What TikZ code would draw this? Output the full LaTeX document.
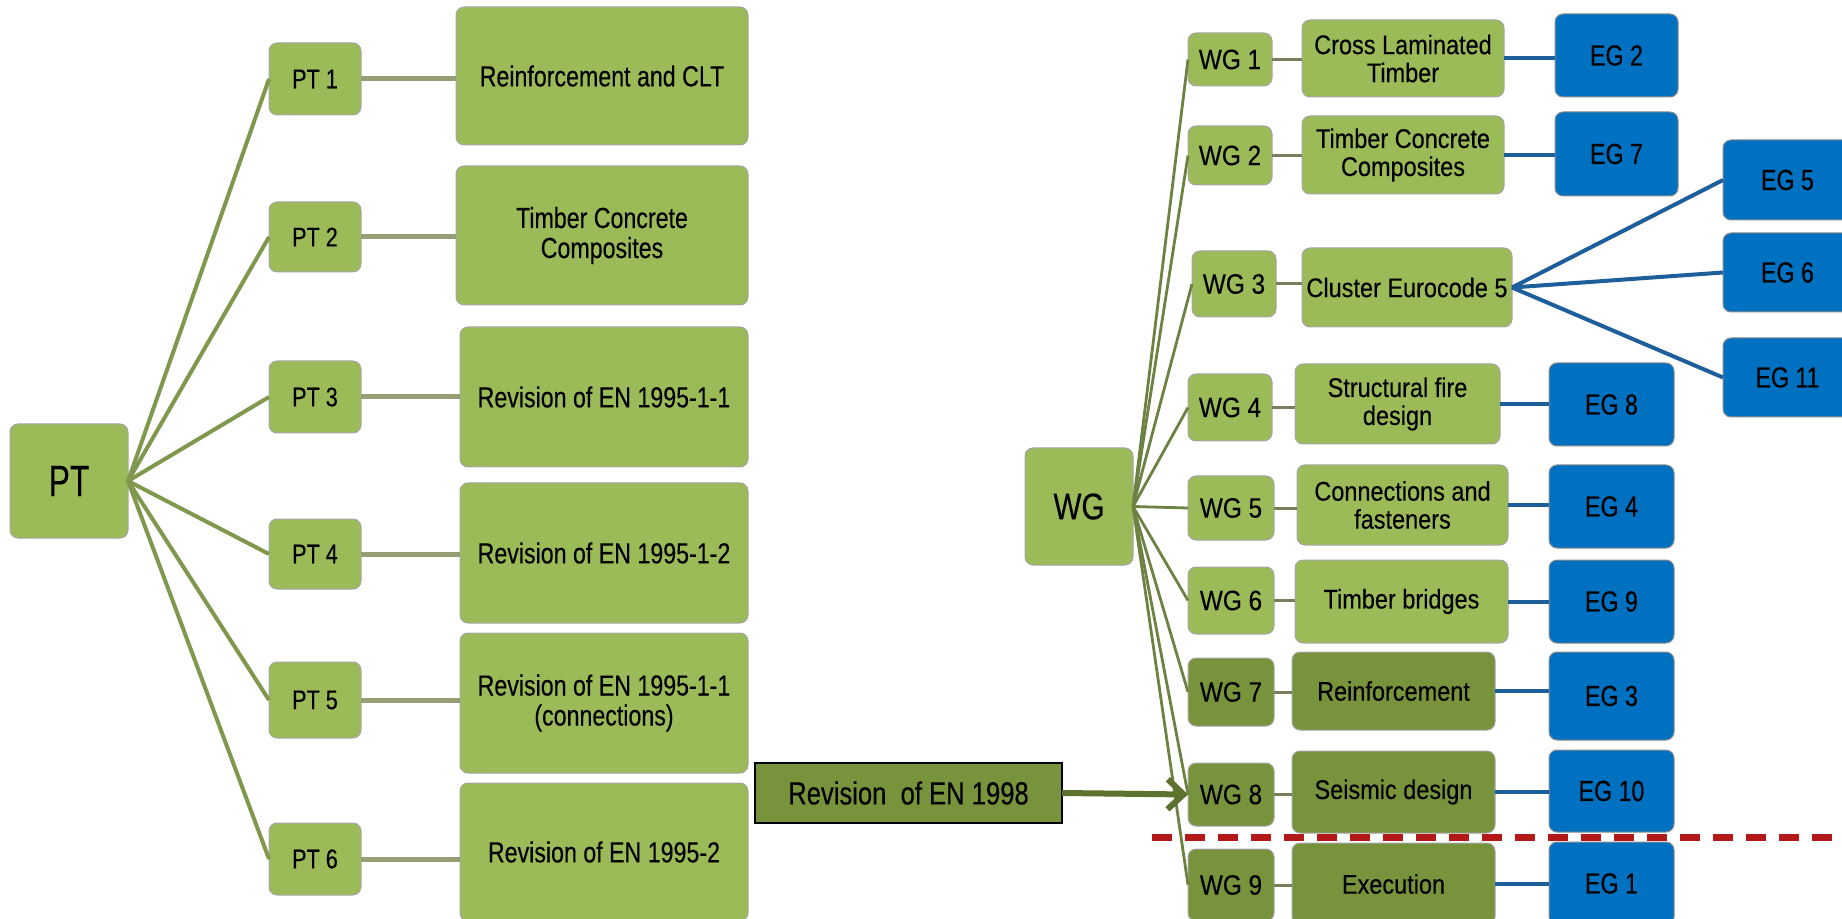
\documentclass[tikz,border=0pt]{standalone}
\usepackage{fontspec}
\setmainfont{Liberation Sans}
\newfontfamily\fA[FakeStretch=0.72,FakeBold=0.3]{Liberation Sans}
\newfontfamily\fB[FakeStretch=0.8,FakeBold=0.3]{Liberation Sans}
\newfontfamily\fC[FakeStretch=0.87,FakeBold=0.3]{Liberation Sans}
\usetikzlibrary{arrows.meta}
\definecolor{lg}{RGB}{155,187,89}
\definecolor{dg}{RGB}{119,147,60}
\definecolor{eb}{RGB}{0,112,192}
\definecolor{ln}{RGB}{128,152,78}
\definecolor{sl}{RGB}{150,158,118}
\definecolor{bl}{RGB}{30,95,155}
\definecolor{ar}{RGB}{92,114,46}
\definecolor{rd}{RGB}{180,25,25}
\tikzset{
  base/.style={rectangle, rounded corners=4pt, inner sep=0pt, outer sep=0pt, align=center, text=black, draw=black!35, line width=0.5pt},
  gbox/.style={base, fill=lg},
  dbox/.style={base, fill=dg},
  ebox/.style={base, fill=eb, draw=black!45},
  rbox/.style={rectangle, inner sep=0pt, outer sep=0pt, fill=dg, draw=black, line width=1pt, font=\fB\fontsize{16}{18}\selectfont},
  ptmain/.style={font=\fA\fontsize{22}{24}\selectfont},
  ptl/.style={font=\fB\fontsize{13.5}{15}\selectfont},
  big/.style={font=\fB\fontsize{14.5}{15}\selectfont},
  wgmain/.style={font=\fB\fontsize{18.5}{20}\selectfont},
  wgl/.style={font=\fC\fontsize{14}{15}\selectfont},
  mid/.style={font=\fC\fontsize{13.5}{14}\selectfont},
  eg/.style={font=\fB\fontsize{14.5}{16}\selectfont},
  pl/.style={draw=ln, line width=2pt},
  sc/.style={draw=sl, line width=2.5pt},
  wl/.style={draw=ln!85!black, line width=1.4pt},
  ws/.style={draw=sl!80!black, line width=1.5pt},
  bc/.style={draw=bl, line width=2pt},
}
\newcommand{\bx}[7]{%
  \pgfmathsetlengthmacro\bw{(#5-#3)*0.5pt}%
  \pgfmathsetlengthmacro\bh{(#6-#4)*0.5pt}%
  \node[#1, minimum width=\bw, minimum height=\bh] (#2) at ({(#3+#5)/2},{(#4+#6)/2}) {#7};}
\begin{document}
\begin{tikzpicture}[x=0.5pt,y=-0.5pt]
\useasboundingbox (0,0) rectangle (1842,919);
\clip (0,0) rectangle (1842,919);
% left side
\bx{gbox,ptmain}{PT}{10}{424}{128}{538}{PT}
\bx{gbox,ptl}{PT1}{269}{43}{361}{115}{PT 1}
\bx{gbox,ptl}{PT2}{269}{202}{361}{272}{PT 2}
\bx{gbox,ptl}{PT3}{269}{361}{361}{433}{PT 3}
\bx{gbox,ptl}{PT4}{269}{519}{361}{589}{PT 4}
\bx{gbox,ptl}{PT5}{269}{662}{361}{738}{PT 5}
\bx{gbox,ptl}{PT6}{269}{823}{361}{895}{PT 6}
\bx{gbox,big}{B1}{456}{7}{748}{145}{Reinforcement and CLT}
\bx{gbox,big}{B2}{456}{166}{748}{305}{Timber Concrete\\Composites}
\bx{gbox,big}{B3}{460}{327}{748}{467}{Revision of EN 1995-1-1}
\bx{gbox,big}{B4}{460}{483}{748}{623}{Revision of EN 1995-1-2}
\bx{gbox,big}{B5}{460}{633}{748}{773}{Revision of EN 1995-1-1\\(connections)}
\bx{gbox,big}{B6}{460}{783}{748}{921}{Revision of EN 1995-2}
\foreach \i in {1,...,6}{
  \draw[pl] (PT.east) -- (PT\i.west);
  \draw[sc] (PT\i.east) -- (B\i.west |- PT\i.east);
}
% revision of EN 1998
\bx{rbox}{R98}{755}{763}{1062}{823}{Revision \ of EN 1998}
% right side
\bx{gbox,wgmain}{WG}{1025}{448}{1133}{565}{WG}
\bx{gbox,wgl}{WG1}{1188}{33}{1272}{86}{WG 1}
\bx{gbox,wgl}{WG2}{1188}{126}{1272}{185}{WG 2}
\bx{gbox,wgl}{WG3}{1192}{251}{1276}{317}{WG 3}
\bx{gbox,wgl}{WG4}{1188}{374}{1272}{441}{WG 4}
\bx{gbox,wgl}{WG5}{1188}{476}{1274}{540}{WG 5}
\bx{gbox,wgl}{WG6}{1188}{567}{1274}{634}{WG 6}
\bx{dbox,wgl}{WG7}{1188}{658}{1274}{726}{WG 7}
\bx{dbox,wgl}{WG8}{1188}{763}{1274}{826}{WG 8}
\bx{dbox,wgl}{WG9}{1188}{849}{1274}{921}{WG 9}
\bx{gbox,mid}{M1}{1302}{20}{1504}{97}{Cross Laminated\\Timber}
\bx{gbox,mid}{M2}{1302}{116}{1504}{194}{Timber Concrete\\Composites}
\bx{gbox,mid}{M3}{1302}{248}{1512}{327}{Cluster Eurocode 5}
\bx{gbox,mid}{M4}{1295}{364}{1500}{444}{Structural fire\\design}
\bx{gbox,mid}{M5}{1297}{465}{1508}{545}{Connections and\\fasteners}
\bx{gbox,mid}{M6}{1295}{560}{1508}{643}{Timber bridges}
\bx{dbox,mid}{M7}{1292}{652}{1495}{730}{Reinforcement}
\bx{dbox,mid}{M8}{1292}{751}{1495}{833}{Seismic design}
\bx{dbox,mid}{M9}{1292}{843}{1495}{925}{Execution}
\bx{ebox,eg}{E1}{1555}{14}{1678}{97}{EG 2}
\bx{ebox,eg}{E2}{1555}{112}{1678}{196}{EG 7}
\bx{ebox,eg}{E4}{1549}{363}{1674}{446}{EG 8}
\bx{ebox,eg}{E5}{1549}{465}{1674}{548}{EG 4}
\bx{ebox,eg}{E6}{1549}{560}{1674}{643}{EG 9}
\bx{ebox,eg}{E7}{1549}{652}{1674}{740}{EG 3}
\bx{ebox,eg}{E8}{1549}{750}{1674}{832}{EG 10}
\bx{ebox,eg}{E9}{1549}{842}{1674}{925}{EG 1}
\bx{ebox,eg}{EG5}{1723}{140}{1852}{220}{EG 5}
\bx{ebox,eg}{EG6}{1723}{233}{1852}{312}{EG 6}
\bx{ebox,eg}{EG11}{1723}{338}{1852}{417}{EG 11}
\foreach \i in {1,...,9}{
  \draw[wl] (WG.east) -- (WG\i.west);
  \draw[ws] (WG\i.east) -- (M\i.west |- WG\i.east);
}
\foreach \i in {1,2,4,5,6,7,8,9}{
  \draw[bc] (M\i.east) -- (E\i.west |- M\i.east);
}
\draw[bc] (M3.east) -- (EG5.west);
\draw[bc] (M3.east) -- (EG6.west);
\draw[bc] (M3.east) -- (EG11.west);
% arrow
\draw[draw=ar, line width=3pt, -{Straight Barb[length=8pt,width=15pt]}] (R98.east) -- (WG8.west);
% dashed red line
\coordinate (dl) at (1152,837);
\coordinate (dr) at (1842,837);
\draw[rd, line width=3.5pt, dash pattern=on 10pt off 6.5pt] (dl) -- (dr);
\end{tikzpicture}
\end{document}
